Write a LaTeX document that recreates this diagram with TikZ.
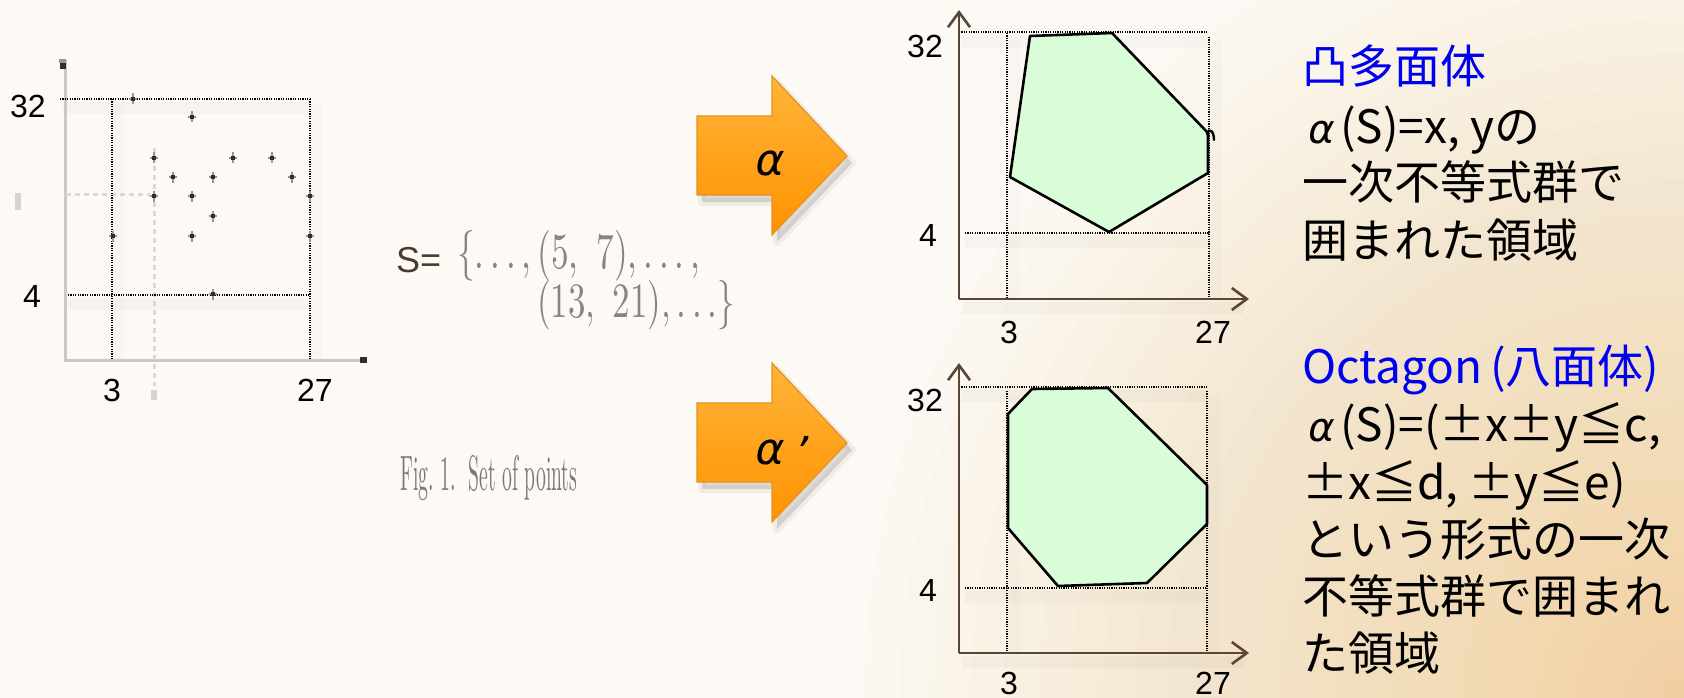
\documentclass[tikz,border=0pt]{standalone}
\usepackage{fontspec}
\usepackage{graphicx}
\newfontfamily\sansf{Liberation Sans}
\newfontfamily\cjk{Noto Sans CJK JP}
\newfontfamily\grkit[FakeSlant=0.2]{DejaVu Sans}
\usetikzlibrary{arrows.meta}
\definecolor{bgcream}{HTML}{FDFAF5}
\definecolor{bgpeach}{HTML}{F2CC90}
\definecolor{axbrown}{HTML}{5B4636}
\definecolor{polyfill}{HTML}{D8FDD8}
\definecolor{orangetop}{HTML}{FFB43A}
\definecolor{orangebot}{HTML}{FF9300}
\definecolor{orangeedge}{HTML}{E39320}
\definecolor{ptgray}{HTML}{9A9691}
\definecolor{ptdark}{HTML}{2E2E2E}
\definecolor{axgray}{HTML}{CDC8C2}
\definecolor{sbrown}{HTML}{4B3B2E}
\definecolor{jblue}{HTML}{0000F0}
\definecolor{figgray}{HTML}{858585}
\newcommand\alsym{{\grkit\fontsize{40}{40}\selectfont α}}
\begin{document}
\begin{tikzpicture}[x=1pt,y=-1pt,
  dotline/.style={black, line width=1.1pt, dash pattern=on 1.2pt off 1.2pt},
  glowband/.style={black, opacity=0.022, line width=12pt},
  lbl/.style={font=\sansf\fontsize{32}{32}\selectfont, inner sep=0pt},
  brownaxis/.style={axbrown, line width=2.6pt, -{Straight Barb[length=15pt,width=22pt]}},
  polyshape/.style={fill=polyfill, draw=black, line width=2.6pt, line join=round},
  jtext/.style={anchor=base west, inner sep=0pt, font=\cjk\fontsize{46}{57}\selectfont},
  figtext/.style={anchor=base west, inner sep=0pt, text=figgray},
  ptmark/.pic={\draw[ptgray, line width=2.2pt] (-4,0) -- (4,0) (0,-5.5) -- (0,5.5);
               \fill[ptdark] (-2.2,-2.2) rectangle (2.2,2.2);},
  orangearrow/.pic={
    \fill[black, opacity=0.12] (5,47) -- (80,47) -- (80,7) -- (155,87) -- (80,166) -- (80,126) -- (5,126) -- cycle;
    \draw[black, opacity=0.05, line width=8pt, line join=round] (5,47) -- (80,47) -- (80,7) -- (155,87) -- (80,166) -- (80,126) -- (5,126) -- cycle;
    \shade[top color=orangetop, bottom color=orangebot, draw=orangeedge, line width=1.2pt]
      (0,40) -- (75,40) -- (75,0) -- (150,80) -- (75,159) -- (75,119) -- (0,119) -- cycle;}
]
\useasboundingbox (0,0) rectangle (1684,698);
% background
\fill[bgcream] (0,0) rectangle (1684,698);
\begin{scope}
  \clip (0,0) rectangle (1684,698);
  \foreach \i in {1,...,36} {
    \pgfmathsetmacro\rr{820*(\i/36)^1.6}
    \fill[bgpeach, opacity=0.04] (1684,698) circle (\rr);
  }
\end{scope}

% ---------------- left plot ----------------
\coordinate (lo) at (65,360);
\coordinate (ly) at (65,60);
\coordinate (lx) at (366,360);
\draw[glowband] (62,108) -- (310,108);
\draw[glowband] (68,304) -- (310,304);
\draw[glowband, opacity=0.015] (118,104) -- (118,360);
\draw[glowband, opacity=0.015] (316,104) -- (316,360);
\draw[axgray, line width=3pt] (ly) -- (lo) -- (lx);
\draw[axgray!70, line width=3pt, dash pattern=on 5pt off 4pt] (66,194) -- (150,194);
\draw[axgray!70, line width=3pt, dash pattern=on 5pt off 4pt] (154,148) -- (154,386);
\draw[dotline] (60,99) -- (310,99);
\draw[dotline] (112,99) -- (112,360);
\draw[dotline] (310,99) -- (310,360);
\draw[dotline] (68,295) -- (310,295);
\fill[axgray!80] (15,193) rectangle (21,210);
\fill[axgray!80] (151,390) rectangle (157,400);
\fill[ptgray] (59,59) rectangle (66,63);
\fill[ptdark] (60,63) rectangle (66,69);
\fill[ptdark] (360,357) rectangle (367,363);
\foreach \px/\py in {133/99,192/117,154/158,233/158,272/158,173/177,213/177,292/177,
                     154/196,192/196,310/196,213/216,113/236,192/236,310/236,213/294}
  \pic at (\px,\py) {ptmark};
\node[lbl] (l32) at (28,106) {32};
\node[lbl] (l4) at (32,296) {4};
\node[lbl] (l3) at (112,390) {3};
\node[lbl] (l27) at (315,390) {27};

% set S
\node[anchor=base west, inner sep=0pt, text=sbrown, font=\sansf\fontsize{36}{36}\selectfont] (seq) at (396,272) {S=};
\node[figtext] (s1) at (457,268) {\resizebox{243pt}{38pt}{$\{\ldots,(5,\ 7),\ldots,$}};
\node[figtext] (s2) at (537,317) {\resizebox{198pt}{37pt}{$(13,\ 21),\ldots\}$}};
\node[figtext, text=figgray!90!black] (cap) at (400,490) {\resizebox{177pt}{35pt}{Fig.~1.~~Set of points}};

% ---------------- arrows ----------------
\pic at (697,76) {orangearrow};
\pic at (697,363) {orangearrow};
\node[font=\grkit\fontsize{44}{44}\selectfont, inner sep=0pt] (alpha1) at (768,163) {α};
\node[font=\grkit\fontsize{44}{44}\selectfont, inner sep=0pt] (alpha2) at (768,452) {α};
\node[font=\grkit\fontsize{44}{44}\selectfont, inner sep=0pt, anchor=west] (prime) at (alpha2.east) {\hspace{10pt}’};

% ---------------- top right plot ----------------
\coordinate (ao) at (959,299);
\coordinate (ay) at (959,10);
\coordinate (ax) at (1249,299);
\draw[glowband] (962,42) -- (1210,42);
\draw[glowband] (965,242) -- (1210,242);
\draw[glowband] (962,308) -- (1245,308);
\draw[glowband, opacity=0.015] (1014,40) -- (1014,299);
\draw[glowband, opacity=0.015] (1216,40) -- (1216,299);
\draw[dotline] (959,32) -- (1207,32);
\draw[dotline] (1007,33) -- (1007,299);
\draw[dotline] (1209,37) -- (1209,299);
\draw[dotline] (965,233) -- (1209,233);
\draw[polyshape] (1030,36) -- (1112,33) -- (1208,133) -- (1208,173) -- (1109,232) -- (1010,177) -- cycle;
\draw[black, line width=2.4pt, line cap=round] (1207,134) .. controls (1209,127) and (1214,131) .. (1214,140);
\draw[brownaxis] (ao) -- (ay);
\draw[brownaxis] (ao) -- (ax);
\node[lbl] (a32) at (925,46) {32};
\node[lbl] (a4) at (928,235) {4};
\node[lbl] (a3) at (1009,332) {3};
\node[lbl] (a27) at (1213,332) {27};

% ---------------- bottom right plot ----------------
\coordinate (bo) at (959,653);
\coordinate (by) at (959,363);
\coordinate (bx) at (1249,653);
\draw[glowband] (962,396) -- (1207,396);
\draw[glowband] (965,597) -- (1207,597);
\draw[glowband] (962,662) -- (1245,662);
\draw[glowband, opacity=0.015] (1014,395) -- (1014,653);
\draw[glowband, opacity=0.015] (1214,395) -- (1214,653);
\draw[dotline] (959,387) -- (1207,387);
\draw[dotline] (1007,391) -- (1007,653);
\draw[dotline] (1207,391) -- (1207,653);
\draw[dotline] (965,588) -- (1207,588);
\draw[polyshape] (1032,389) -- (1108,388) -- (1207,485) -- (1207,524) -- (1147,583) -- (1058,586) -- (1008,528) -- (1008,414) -- cycle;
\draw[brownaxis] (bo) -- (by);
\draw[brownaxis] (bo) -- (bx);
\node[lbl] (c32) at (925,400) {32};
\node[lbl] (c4) at (928,590) {4};
\node[lbl] (c3) at (1009,683) {3};
\node[lbl] (c27) at (1213,683) {27};

% ---------------- right texts ----------------
\node[jtext, text=jblue] (t1) at (1302,84) {凸多面体};
\node[jtext] (t2) at (1306,144) {\alsym\,(S)=x, yの};
\node[jtext] (t3) at (1302,199) {一次不等式群で};
\node[jtext] (t4) at (1302,257) {囲まれた領域};
\node[jtext, text=jblue] (b1) at (1302,383) {Octagon\,(八面体)};
\node[jtext] (b2) at (1306,441) {\alsym\,(S)=(±x±y≦c,};
\node[jtext] (b3) at (1302,499) {±x≦d, ±y≦e)};
\node[jtext] (b4) at (1302,556) {という形式の一次};
\node[jtext] (b5) at (1302,613) {不等式群で囲まれ};
\node[jtext] (b6) at (1302,670) {た領域};
\end{tikzpicture}
\end{document}
